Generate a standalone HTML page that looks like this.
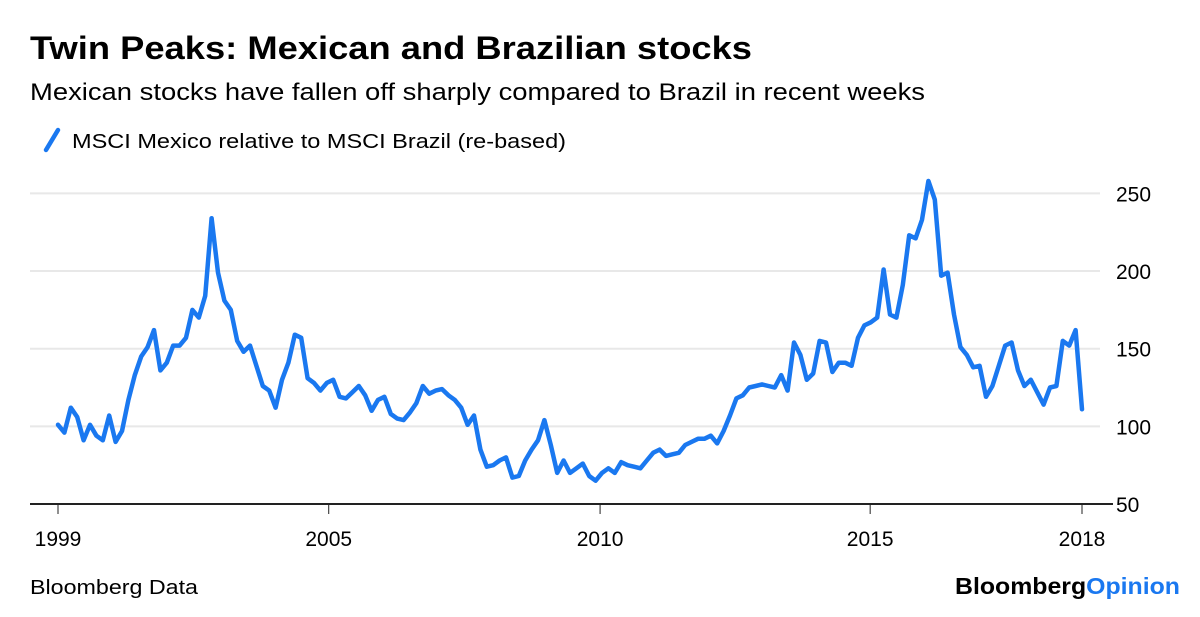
<!DOCTYPE html>
<html><head><meta charset="utf-8"><style>
body{margin:0;background:#fff;font-family:"Liberation Sans",sans-serif;}
svg text{font-family:"Liberation Sans",sans-serif;}
</style></head><body>
<svg id="chart" width="1200" height="612" xmlns="http://www.w3.org/2000/svg">
<text x="30" y="59" font-size="32" font-weight="bold" fill="#000" textLength="722" lengthAdjust="spacingAndGlyphs">Twin Peaks: Mexican and Brazilian stocks</text>
<text x="30" y="100" font-size="24" fill="#000" textLength="895" lengthAdjust="spacingAndGlyphs">Mexican stocks have fallen off sharply compared to Brazil in recent weeks</text>
<g>
<line x1="46" y1="150" x2="58" y2="130" stroke="#1a78f0" stroke-width="4.5" stroke-linecap="round"/>
<text x="72" y="148" font-size="20" fill="#000" textLength="494" lengthAdjust="spacingAndGlyphs">MSCI Mexico relative to MSCI Brazil (re-based)</text>
</g>
<g id="grid"></g>
<g id="xaxis"></g>
<path id="series" fill="none" stroke="#1a78f0" stroke-width="4.5" stroke-linejoin="round" stroke-linecap="round"/>
<text x="30" y="594" font-size="20" fill="#000" textLength="168" lengthAdjust="spacingAndGlyphs">Bloomberg Data</text>
<text x="955" y="594" font-size="23" font-weight="bold" fill="#000" textLength="225" lengthAdjust="spacingAndGlyphs">Bloomberg<tspan fill="#1a78f0">Opinion</tspan></text>
</svg>
<script>
const values = [101,96,112,106,91,101,94,91,107,90,97,117,133,145,151,162,136,141,152,152,157,175,170,184,234,199,181,175,155,148,152,139,126,123,112,130,141,159,157,131,128,123,128,130,119,118,122,126,120,110,117,119,108,105,104,109,115,126,121,123,124,120,117,112,101,107,85,74,75,78,80,67,68,78,85,91,104,88,70,78,70,73,76,68,65,70,73,70,77,75,74,73,78,83,85,81,82,83,88,90,92,92,94,89,97,107,118,120,125,126,127,126,125,133,123,154,146,130,134,155,154,135,141,141,139,157,165,167,170,201,172,170,191,223,221,233,258,246,197,199,172,151,146,138,139,119,126,139,152,154,136,126,130,122,114,125,126,155,152,162,111];
const yTicks = [50,100,150,200,250];
const xTickLabels = ["1999","2005","2010","2015","2018"];
const xTickIndex = [0,42.3,84.7,126.9,160];

const X0=58, X1=1082, Y0=504, PXV=1.553;
const xs = i => X0 + (X1-X0)*i/(values.length-1);
const ys = v => Y0 - (v-50)*PXV;
const NS="http://www.w3.org/2000/svg";
const grid=document.getElementById('grid');
yTicks.forEach(t=>{
  const l=document.createElementNS(NS,'line');
  
  
  l.setAttribute('x1',30); l.setAttribute('x2',t===50?1113:1100);
  l.setAttribute('y1',ys(t)); l.setAttribute('y2',ys(t));
  l.setAttribute('stroke',t===50?'#222':'#e8e8e8');
  l.setAttribute('stroke-width',2);
  grid.appendChild(l);
  const tx=document.createElementNS(NS,'text');
  
  
  tx.setAttribute('x',1116); tx.setAttribute('y',ys(t)+8);
  tx.setAttribute('font-size','21');
  tx.textContent=t; grid.appendChild(tx);
});
const xa=document.getElementById('xaxis');
xTickLabels.forEach((lab,k)=>{
  const x=xs(xTickIndex[k]);
  const l=document.createElementNS(NS,'line');
  
  
  l.setAttribute('x1',x);l.setAttribute('x2',x);l.setAttribute('y1',504);l.setAttribute('y2',514);
  l.setAttribute('stroke','#222');l.setAttribute('stroke-width',1);
  xa.appendChild(l);
  const tx=document.createElementNS(NS,'text');
  
  
  tx.setAttribute('x',x);tx.setAttribute('y',546);
  tx.setAttribute('font-size','21');tx.setAttribute('text-anchor','middle');
  tx.textContent=lab; xa.appendChild(tx);
});
document.getElementById('series').setAttribute('d',values.map((v,i)=>(i?'L':'M')+xs(i).toFixed(1)+' '+ys(v).toFixed(1)).join(' '));
</script>
</body></html>
